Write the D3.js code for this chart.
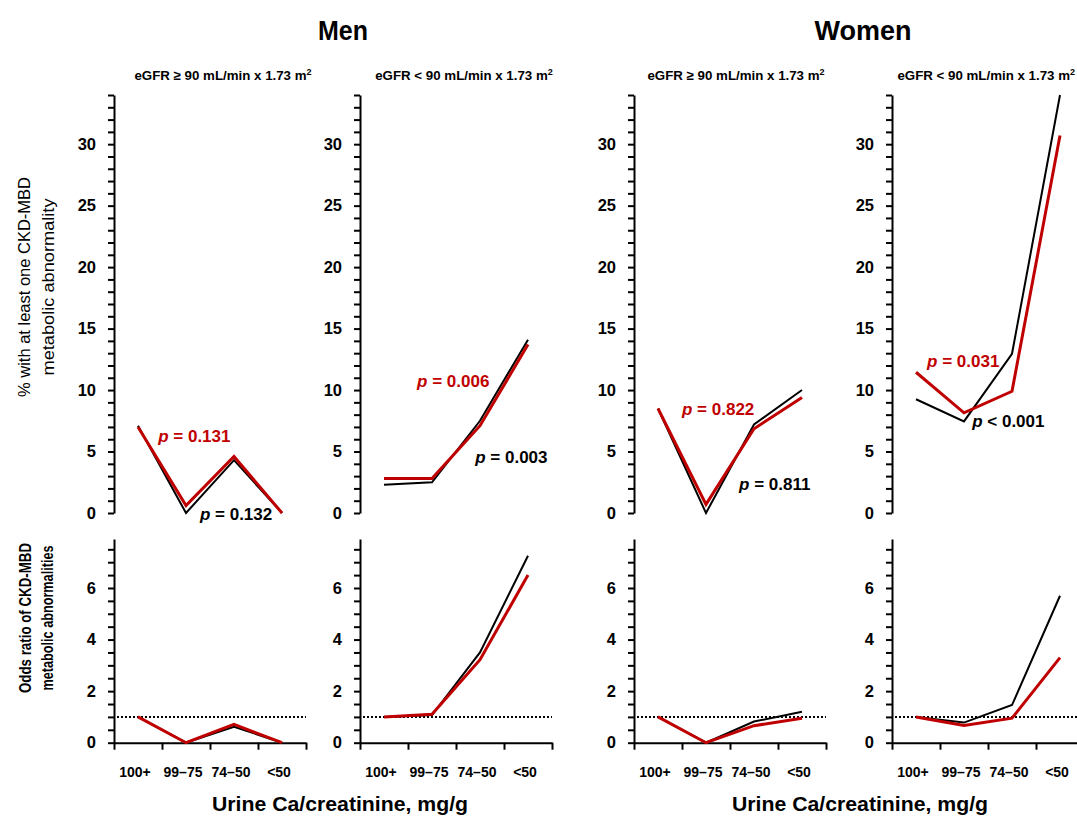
<!DOCTYPE html>
<html>
<head>
<meta charset="utf-8">
<script src="https://cdn.jsdelivr.net/npm/d3@7"></script>
<style>
  html, body { margin: 0; padding: 0; background: #fff; }
  svg { display: block; font-family: "Liberation Sans", Arial, Helvetica, sans-serif; }
</style>
</head>
<body>
<svg id="chart" width="1077" height="816"></svg>
<script>
// Urine Ca/creatinine categories (x axis)
const categories = ["100+", "99–75", "74–50", "<50"];

// Panels: Men eGFR >= 90, Men eGFR < 90, Women eGFR >= 90, Women eGFR < 90
const groupTitles = ["Men", "Women"];
const panelTitles = [
  "eGFR ≥ 90 mL/min x 1.73 m",
  "eGFR < 90 mL/min x 1.73 m",
  "eGFR ≥ 90 mL/min x 1.73 m",
  "eGFR < 90 mL/min x 1.73 m"
];
const xTitle = "Urine Ca/creatinine, mg/g";
const yTitleTop = ["% with at least one CKD-MBD", "metabolic abnormality"];
const yTitleBottom = ["Odds ratio of CKD-MBD", "metabolic abnormalities"];

// % with at least one CKD-MBD metabolic abnormality
const prevalenceBlack = [
  [7.1, 0, 4.3, 0],
  [2.3, 2.5, 7.5, 14.1],
  [8.5, 0, 7.2, 10.0],
  [9.25, 7.45, 12.95, 34.0]
];
const prevalenceRed = [
  [7.0, 0.6, 4.6, 0],
  [2.8, 2.8, 7.1, 13.7],
  [8.5, 0.7, 6.85, 9.4],
  [11.45, 8.15, 9.9, 30.7]
];

// Odds ratio of CKD-MBD metabolic abnormalities
const oddsBlack = [
  [1, 0, 0.62, 0],
  [1, 1.07, 3.5, 7.25],
  [1, 0, 0.82, 1.2],
  [1, 0.78, 1.46, 5.7]
];
const oddsRed = [
  [1, 0, 0.71, 0],
  [1, 1.1, 3.22, 6.5],
  [1, 0, 0.66, 0.95],
  [1, 0.67, 0.95, 3.3]
];
const oddsReference = 1;

// Trend p-values
const pBlack = ["= 0.132", "= 0.003", "= 0.811", "< 0.001"];
const pRed = ["= 0.131", "= 0.006", "= 0.822", "= 0.031"];

// Tick values
const prevTicks = [0, 5, 10, 15, 20, 25, 30];
const oddsTicks = [0, 2, 4, 6];

// ---- layout ----
const W = 1077, H = 816;
const panelLeft = [114, 360, 634, 892];
const subtitleX = [223, 464, 736, null];   // null: right-aligned to the page edge
const groupCenter = [343, 863];
const bandW = 48;
const topY = { bottom: 513, top: 95, max: 34 };
const botY = { bottom: 742.7, top: 539, max: 7.9 };
const RED = "#c00000";

// p-value label anchors in data units: [x in category widths from the axis, y in %]
const pRedAt = [[0.92, 5.8], [1.19, 10.27], [1.0, 7.99], [0.73, 11.9]];
const pBlackAt = [[1.79, -0.57], [2.40, 4.07], [2.19, 1.87], [1.67, 7.0]];

const svg = d3.select("#chart");
svg.append("rect").attr("width", W).attr("height", H).attr("fill", "#fff");

const yTop = d3.scaleLinear().domain([0, topY.max]).range([topY.bottom, topY.top]);
const yBot = d3.scaleLinear().domain([0, botY.max]).range([botY.bottom, botY.top]);

function styleAxis(g) {
  g.attr("font-family", null).attr("font-size", null);
  g.select(".domain").attr("stroke", "#000").attr("stroke-width", 2);
  g.selectAll(".tick line").attr("stroke", "#000").attr("stroke-width", 2);
  g.selectAll(".tick text")
    .attr("fill", "#000")
    .attr("font-size", 16.5)
    .attr("font-weight", "bold");
}

panelLeft.forEach((x0, i) => {
  const xBand = d3.scaleBand().domain(categories).range([x0, x0 + bandW * categories.length]);
  const xEdge = d3.scaleLinear().domain([0, categories.length]).range([x0, x0 + bandW * categories.length]);
  const cx = c => xBand(c) + xBand.bandwidth() / 2;

  // panel subtitle
  const t = svg.append("text")
    .attr("x", subtitleX[i] === null ? W - 2 : subtitleX[i]).attr("y", 80)
    .attr("text-anchor", subtitleX[i] === null ? "end" : "middle")
    .attr("font-size", 13.3).attr("font-weight", "bold")
    .text(panelTitles[i]);
  t.append("tspan").attr("dy", -5).attr("font-size", 9).text("2");

  // ---- top panel: prevalence ----
  svg.append("g").attr("transform", `translate(${x0},0)`)
    .call(d3.axisLeft(yTop)
      .tickValues(d3.range(0, topY.max + 1))
      .tickSize(6).tickSizeOuter(0).tickPadding(12)
      .tickFormat(d => prevTicks.includes(d) ? d : ""))
    .call(styleAxis);

  const lineTop = d3.line().x((d, k) => cx(categories[k])).y(d => yTop(d));
  svg.append("path").datum(prevalenceBlack[i])
    .attr("d", lineTop).attr("fill", "none").attr("stroke", "#000").attr("stroke-width", 2);
  svg.append("path").datum(prevalenceRed[i])
    .attr("d", lineTop).attr("fill", "none").attr("stroke", RED).attr("stroke-width", 3);

  const pLabel = (txt, at, color) => {
    const el = svg.append("text")
      .attr("x", xEdge(at[0])).attr("y", yTop(at[1]))
      .attr("font-size", 17).attr("font-weight", "bold").attr("fill", color);
    el.append("tspan").attr("font-style", "italic").text("p");
    el.append("tspan").text(" " + txt);
  };
  pLabel(pRed[i], pRedAt[i], RED);
  pLabel(pBlack[i], pBlackAt[i], "#000");

  // ---- bottom panel: odds ratio ----
  svg.append("g").attr("transform", `translate(${x0},0)`)
    .call(d3.axisLeft(yBot)
      .tickValues(d3.range(0, 7.51, 0.5))
      .tickSize(6).tickSizeOuter(0).tickPadding(12)
      .tickFormat(d => oddsTicks.includes(d) ? d : ""))
    .call(styleAxis);

  svg.append("g").attr("transform", `translate(0,${botY.bottom})`)
    .call(d3.axisBottom(xEdge).tickValues(d3.range(0, categories.length + 1))
      .tickSize(7).tickSizeOuter(0).tickFormat(""))
    .call(styleAxis);

  // reference line at OR = 1
  svg.append("line")
    .attr("x1", x0 + 3).attr("x2", x0 + bandW * categories.length)
    .attr("y1", yBot(oddsReference)).attr("y2", yBot(oddsReference))
    .attr("stroke", "#000").attr("stroke-width", 2).attr("stroke-dasharray", "2,2");

  const lineBot = d3.line().x((d, k) => cx(categories[k])).y(d => yBot(d));
  svg.append("path").datum(oddsBlack[i])
    .attr("d", lineBot).attr("fill", "none").attr("stroke", "#000").attr("stroke-width", 2);
  svg.append("path").datum(oddsRed[i])
    .attr("d", lineBot).attr("fill", "none").attr("stroke", RED).attr("stroke-width", 3);

  // category labels
  svg.append("g").selectAll("text").data(categories).join("text")
    .attr("x", d => cx(d) - 3).attr("y", 777)
    .attr("text-anchor", "middle")
    .attr("font-size", 14).attr("font-weight", "bold")
    .text(d => d);
});

// group titles and x-axis titles
groupCenter.forEach((gx, g) => {
  svg.append("text").attr("x", gx).attr("y", 40)
    .attr("text-anchor", "middle").attr("font-size", 28).attr("font-weight", "bold")
    .attr("textLength", g === 0 ? 50 : 97).attr("lengthAdjust", "spacingAndGlyphs")
    .text(groupTitles[g]);
  svg.append("text").attr("x", gx - 3).attr("y", 811)
    .attr("text-anchor", "middle").attr("font-size", 20).attr("font-weight", "bold")
    .attr("textLength", 256).attr("lengthAdjust", "spacingAndGlyphs")
    .text(xTitle);
});

// y-axis titles (two lines, rotated)
function yTitle(lines, cy, weight, baselines, lengths) {
  lines.forEach((l, k) => {
    svg.append("text")
      .attr("transform", `translate(${baselines[k]},${cy}) rotate(-90)`)
      .attr("text-anchor", "middle").attr("font-size", 17).attr("font-weight", weight)
      .attr("textLength", lengths[k]).attr("lengthAdjust", "spacingAndGlyphs")
      .text(l);
  });
}
yTitle(yTitleTop, 287, "normal", [30, 54], [220, 177]);
yTitle(yTitleBottom, 618, "bold", [31, 53], [150, 145]);
</script>
</body>
</html>
